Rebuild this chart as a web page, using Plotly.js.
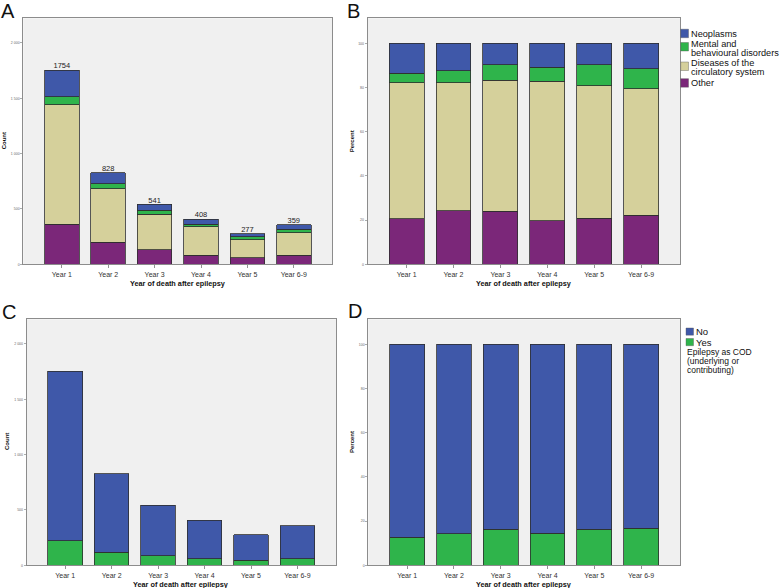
<!DOCTYPE html>
<html lang="en">
<head>
<meta charset="utf-8">
<title>Cause of death by year after epilepsy</title>
<script src="https://cdn.plot.ly/plotly-3.0.1.min.js"></script>
<style>
body { margin: 0; background: #fff; }
#chart { width: 783px; height: 588px; }
</style>
</head>
<body>
<div id="chart"></div>
<script>
// categories
var years = ['Year 1', 'Year 2', 'Year 3', 'Year 4', 'Year 5', 'Year 6-9'];

var other       = [360, 200, 130, 80, 58, 80];
var circulatory = [1082, 481, 321, 258, 166, 205];
var mental      = [74, 45, 38, 26, 26, 33];
var neoplasms   = [238, 102, 52, 44, 27, 41];
var totals      = [1754, 828, 541, 408, 277, 359];

// epilepsy as cause of death (underlying or contributing), counts
var epiYes = [222, 118, 88, 59, 45, 60];

var causeNames  = ['Other', 'Diseases of the circulatory system', 'Mental and behavioural disorders', 'Neoplasms'];
var causeColors = ['#7b2779', '#d5d09b', '#2fb44b', '#3f58a9'];
var causeData   = [other, circulatory, mental, neoplasms];

var W = 783, H = 588;
function px(x) { return x / W; }
function py(y) { return 1 - y / H; }

function pct(arr) {
  var out = [];
  for (var i = 0; i < arr.length; i++) out.push(arr[i] / totals[i] * 100);
  return out;
}

var epiNo = [];
for (var i = 0; i < totals.length; i++) epiNo.push(totals[i] - epiYes[i]);

var edge = { color: '#2e2e2e', width: 0.8 };
var traces = [];

// panel A and B
for (var k = 0; k < causeData.length; k++) {
  traces.push({ type: 'bar', x: years, y: causeData[k], name: causeNames[k],
    xaxis: 'x', yaxis: 'y', marker: { color: causeColors[k], line: edge }, hoverinfo: 'y' });
  traces.push({ type: 'bar', x: years, y: pct(causeData[k]), name: causeNames[k],
    xaxis: 'x2', yaxis: 'y2', marker: { color: causeColors[k], line: edge }, hoverinfo: 'y' });
}
// totals above bars in A
traces.push({ type: 'scatter', mode: 'text', x: years, y: totals, text: totals.map(String),
  textposition: 'top center', cliponaxis: false, xaxis: 'x', yaxis: 'y',
  textfont: { family: 'Liberation Sans, Arial', size: 7.5, color: '#222' }, hoverinfo: 'skip' });

// panel C and D
var epiSets = [[epiYes, '#2fb44b', 'Yes'], [epiNo, '#3f58a9', 'No']];
for (var k = 0; k < epiSets.length; k++) {
  traces.push({ type: 'bar', x: years, y: epiSets[k][0], name: epiSets[k][2],
    xaxis: 'x3', yaxis: 'y3', marker: { color: epiSets[k][1], line: edge }, hoverinfo: 'y' });
  traces.push({ type: 'bar', x: years, y: pct(epiSets[k][0]), name: epiSets[k][2],
    xaxis: 'x4', yaxis: 'y4', marker: { color: epiSets[k][1], line: edge }, hoverinfo: 'y' });
}

function xAxis(dom, anchor) {
  return {
    type: 'category', categoryorder: 'array', categoryarray: years,
    range: [-0.83, 5.83], domain: dom, anchor: anchor,
    showline: true, mirror: true, linecolor: '#8c8c8c', linewidth: 1,
    ticks: 'outside', ticklen: 3, tickcolor: '#777', tickwidth: 0.8,
    tickfont: { family: 'Liberation Sans, Arial', size: 7, color: '#333' },
    showgrid: false, zeroline: false, fixedrange: true
  };
}
function yAxis(dom, anchor, top, step) {
  return {
    range: [0, top], domain: dom, anchor: anchor, tick0: 0, dtick: step,
    showline: true, mirror: true, linecolor: '#8c8c8c', linewidth: 1,
    ticks: 'outside', ticklen: 2, tickcolor: '#777', tickwidth: 0.6,
    tickfont: { family: 'Liberation Sans, Arial', size: 3.5, color: '#666' },
    separatethousands: true, showgrid: false, zeroline: false, fixedrange: true
  };
}

var rowTop = [py(264.3), py(18.3)];
var rowBot = [py(565.3), py(319.3)];

var layout = {
  width: W, height: H,
  margin: { l: 0, r: 0, t: 0, b: 0 },
  paper_bgcolor: '#ffffff', plot_bgcolor: '#f0f0f0',
  barmode: 'stack', bargap: 0.255, showlegend: false,
  separators: '. ',
  font: { family: 'Liberation Sans, Arial', color: '#222' },
  xaxis:  xAxis([px(23.3), px(332.3)], 'y'),
  yaxis:  yAxis(rowTop, 'x', 2223, 500),
  xaxis2: xAxis([px(367.7), px(680)], 'y2'),
  yaxis2: yAxis(rowTop, 'x2', 111.3, 20),
  xaxis3: xAxis([px(26.7), px(336)], 'y3'),
  yaxis3: yAxis(rowBot, 'x3', 2223, 500),
  xaxis4: xAxis([px(368.3), px(680)], 'y4'),
  yaxis4: yAxis(rowBot, 'x4', 111.3, 20),
  annotations: [],
  shapes: []
};

function note(x, y, text, size, opts) {
  var a = { xref: 'paper', yref: 'paper', x: px(x), y: py(y), text: text, showarrow: false,
    xanchor: 'left', yanchor: 'middle', font: { family: 'Liberation Sans, Arial', size: size, color: '#111' } };
  for (var key in opts) a[key] = opts[key];
  layout.annotations.push(a);
}

// panel letters
note(-1, 11.5, 'A', 20, {});
note(345, 11, 'B', 20, {});
note(0, 311.5, 'C', 20, {});
note(346, 311, 'D', 20, {});

// axis titles
var xt = '<b>Year of death after epilepsy</b>';
note(177.8, 283.3, xt, 7.3, { xanchor: 'center' });
note(523.8, 283.3, xt, 7.3, { xanchor: 'center' });
note(181.3, 584, xt, 7.3, { xanchor: 'center' });
note(524.1, 584, xt, 7.3, { xanchor: 'center' });
note(4, 141.3, '<b>Count</b>', 6, { xanchor: 'center', textangle: -90 });
note(352, 141.3, '<b>Percent</b>', 6, { xanchor: 'center', textangle: -90 });
note(7, 442, '<b>Count</b>', 6, { xanchor: 'center', textangle: -90 });
note(352, 442, '<b>Percent</b>', 6, { xanchor: 'center', textangle: -90 });

// legend for A/B, drawn by hand (top item first)
var legB = [['Neoplasms'], ['Mental and', 'behavioural disorders'], ['Diseases of the', 'circulatory system'], ['Other']];
var cur = 33.5;
for (var k = 0; k < legB.length; k++) {
  var col = causeColors[causeColors.length - 1 - k];
  var swTop = legB[k].length > 1 ? cur - 1.5 : cur - 4.3;
  layout.shapes.push({ type: 'rect', xref: 'paper', yref: 'paper',
    x0: px(680.7), x1: px(688.5), y0: py(swTop), y1: py(swTop + 8.5),
    fillcolor: col, line: { color: '#555', width: 0.4 } });
  for (var j = 0; j < legB[k].length; j++) {
    note(688.5, cur + 9 * j, legB[k][j], 9.2, {});
  }
  cur += 10.5 + 9 * (legB[k].length - 1);
}

// legend for C/D
var legD = [['No', '#3f58a9'], ['Yes', '#2fb44b']];
for (var k = 0; k < legD.length; k++) {
  var y0 = 328 + 10.5 * k;
  layout.shapes.push({ type: 'rect', xref: 'paper', yref: 'paper',
    x0: px(686), x1: px(693.5), y0: py(y0), y1: py(y0 + 7.2),
    fillcolor: legD[k][1], line: { color: '#555', width: 0.4 } });
  note(693.8, y0 + 3.8, legD[k][0], 9.5, {});
}
var legTitle = ['Epilepsy as COD', '(underlying or', 'contributing)'];
for (var j = 0; j < legTitle.length; j++) {
  note(685, 352 + 9 * j, legTitle[j], 8.5, {});
}

Plotly.newPlot('chart', traces, layout, { displayModeBar: false, staticPlot: true });
</script>
</body>
</html>
